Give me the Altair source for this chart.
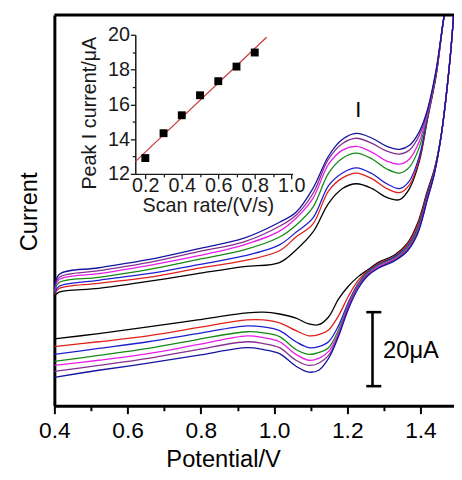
import altair as alt
import pandas as pd

FONT = "Liberation Sans"

# ---------------- main CV data (potential in V, current in µA) ----------------
rates = ["0.2", "0.3", "0.4", "0.5", "0.6", "0.7", "0.8"]
colors = ["#000000", "#e0201a", "#1f1fd0", "#168a16", "#e81ee8", "#852f8f", "#1515a0"]

# forward (anodic) scan, ends at the switching vertex
fwd_V = [0.400, 0.413, 0.521, 0.656, 0.791, 0.918, 1.015, 1.060, 1.106, 1.149, 1.187,
         1.225, 1.268, 1.308, 1.343, 1.370, 1.397, 1.419, 1.443, 1.465, 1.502]
fwd_I = {
    "0.2": [29.6, 30.7, 31.7, 33.6, 35.7, 37.6, 38.7, 42.1, 46.9, 54.7, 58.7,
            60.0, 58.7, 56.3, 55.7, 58.7, 66.1, 77.3, 89.3, 105.6, 125.0],
    "0.3": [30.1, 31.7, 33.1, 34.7, 37.1, 39.2, 41.9, 45.6, 49.1, 58.1, 61.6,
            62.9, 61.3, 58.7, 57.6, 59.7, 66.7, 77.6, 89.6, 105.6, 125.0],
    "0.4": [30.4, 32.3, 33.9, 35.7, 38.1, 40.5, 43.5, 46.9, 50.7, 59.5, 62.9,
            64.3, 62.7, 60.0, 58.7, 60.8, 67.5, 77.9, 89.9, 105.6, 125.0],
    "0.5": [30.7, 33.3, 34.7, 36.8, 39.5, 42.1, 45.6, 48.8, 53.6, 62.9, 66.9,
            68.3, 66.7, 64.0, 62.9, 64.5, 69.9, 78.4, 90.1, 105.6, 125.0],
    "0.6": [30.9, 34.1, 35.7, 37.9, 40.5, 43.5, 47.2, 50.7, 56.0, 65.3, 69.1,
            70.1, 68.5, 66.1, 65.3, 66.7, 71.5, 78.9, 90.4, 105.6, 125.0],
    "0.7": [31.2, 34.7, 36.5, 38.7, 41.6, 44.3, 48.5, 51.5, 57.3, 66.7, 70.9,
            72.3, 70.9, 68.8, 68.0, 69.1, 73.1, 79.5, 90.7, 105.6, 125.0],
    "0.8": [31.5, 35.5, 37.3, 39.5, 42.4, 45.3, 49.6, 52.3, 58.7, 67.5, 72.0,
            73.6, 72.3, 70.1, 69.3, 70.4, 74.1, 80.0, 90.9, 105.6, 125.0],
}

# reverse (cathodic) scan, from just after the vertex back to 0.4 V
rev_V = [1.489, 1.478, 1.457, 1.438, 1.419, 1.392, 1.365, 1.330, 1.284, 1.257, 1.230,
         1.203, 1.176, 1.149, 1.122, 1.095, 1.060, 1.015, 0.971, 0.926, 0.791, 0.656,
         0.521, 0.400]
rev_I = {
    "0.2": [103.5, 90.9, 73.3, 64.0, 58.1, 49.3, 44.0, 40.8, 38.7, 36.8, 34.9,
            32.3, 28.8, 24.0, 21.9, 22.1, 23.7, 24.8, 25.3, 25.1, 23.2, 21.3, 19.5, 18.1],
    "0.3": [103.5, 90.9, 73.3, 63.7, 57.6, 48.8, 43.7, 40.5, 38.4, 36.5, 33.9,
            29.6, 24.3, 20.5, 19.2, 18.9, 20.3, 22.4, 23.2, 23.2, 21.1, 18.9, 17.3, 16.0],
    "0.4": [103.5, 90.9, 73.3, 63.5, 57.1, 48.0, 43.2, 40.3, 38.1, 36.3, 33.1,
            28.0, 21.6, 17.3, 16.0, 15.7, 17.3, 20.3, 21.3, 21.6, 19.5, 17.3, 15.5, 13.9],
    "0.5": [103.5, 90.9, 73.3, 63.2, 56.5, 47.5, 42.7, 40.0, 37.9, 36.0, 32.8,
            27.5, 20.5, 15.7, 14.4, 13.9, 15.2, 18.7, 19.7, 20.0, 17.9, 15.5, 13.6, 12.0],
    "0.6": [103.5, 90.9, 73.3, 62.9, 56.3, 46.9, 42.4, 39.7, 37.6, 35.7, 32.5,
            27.2, 19.7, 14.7, 12.8, 12.3, 13.9, 17.3, 18.4, 18.9, 16.5, 14.1, 12.3, 10.9],
    "0.7": [103.5, 90.9, 73.3, 62.9, 56.0, 46.7, 42.1, 39.5, 37.3, 35.5, 32.3,
            26.7, 19.2, 13.6, 11.5, 10.9, 12.3, 15.7, 16.8, 17.3, 15.2, 12.8, 10.9, 9.3],
    "0.8": [103.5, 90.9, 73.3, 62.7, 55.7, 46.4, 41.9, 39.2, 37.1, 35.2, 31.7,
            26.1, 18.7, 12.8, 9.6, 9.1, 10.7, 14.1, 15.2, 15.7, 13.6, 11.5, 9.6, 7.7],
}

x_ticks = [0.4, 0.5, 0.6, 0.7, 0.8, 0.9, 1.0, 1.1, 1.2, 1.3, 1.4]

# scale bar (20 µA) and peak label
bar_V = [1.269]
bar_I = [5.3]
bar_I2 = [25.3]
cap_V = [1.252, 1.252]
cap_V2 = [1.293, 1.293]
cap_I = [5.3, 25.3]
bar_text = ["20μA"]
bar_text_V = [1.298]
bar_text_I = [14.7]
peak_label = ["I"]
peak_label_V = [1.230]
peak_label_I = [78.1]

# ---------------- inset data ----------------
scan_rate = [0.2, 0.3, 0.4, 0.5, 0.6, 0.7, 0.8]
peak_I = [12.91, 14.34, 15.37, 16.52, 17.33, 18.17, 18.98]
inset_x_ticks = [0.2, 0.3, 0.4, 0.5, 0.6, 0.7, 0.8, 0.9, 1.0]
inset_y_ticks = [12, 13, 14, 15, 16, 17, 18, 19, 20]

# ---------------- tables ----------------
rows = []
for r in rates:
    seq = list(zip(fwd_V, fwd_I[r])) + list(zip(rev_V, rev_I[r]))
    for k, (v, i) in enumerate(seq):
        rows.append({"rate": r, "V": v, "I": i, "k": k})
cv = pd.DataFrame(rows)

bar_df = pd.DataFrame({"V": bar_V, "I": bar_I, "I2": bar_I2})
cap_df = pd.DataFrame({"V": cap_V, "V2": cap_V2, "I": cap_I})
bar_text_df = pd.DataFrame({"V": bar_text_V, "I": bar_text_I, "t": bar_text})
peak_df = pd.DataFrame({"V": peak_label_V, "I": peak_label_I, "t": peak_label})
inset_df = pd.DataFrame({"rate": scan_rate, "peak": peak_I})

W, H = 405, 396

xs = alt.Scale(domain=[0.4, 1.4916], nice=False, zero=False)
ys = alt.Scale(domain=[0, 105.6], nice=False, zero=False)

even10 = "round(datum.value*10) % 2 == 0"
x_axis = alt.Axis(
    values=x_ticks, title="Potential/V", grid=False,
    labelExpr=f"{even10} ? format(datum.value, '.1f') : ''",
    tickSize={"condition": {"test": even10, "value": 8}, "value": 5},
    tickWidth=2, tickColor="black", domainWidth=3, domainColor="black",
    labelFont=FONT, labelFontSize=23, labelColor="black", labelBaseline="alphabetic",
    labelPadding=24, labelOverlap=False, labelFlush=False,
    titleFont=FONT, titleFontSize=24, titleFontWeight="normal", titleColor="black",
    titleX=171, titleY=62, titleBaseline="alphabetic", titleAlign="center",
)
y_axis = alt.Axis(
    ticks=False, labels=False, grid=False, domainWidth=3, domainColor="black",
    title="Current", titleFont=FONT, titleFontSize=24, titleFontWeight="normal",
    titleColor="black", titleX=-18, titleY=199, titleAngle=270,
    titleBaseline="alphabetic", titleAlign="center",
)

X = alt.X("V:Q", scale=xs, axis=x_axis)
Y = alt.Y("I:Q", scale=ys, axis=y_axis)

curves = alt.Chart(cv).mark_line(
    strokeWidth=1.3, clip=True, interpolate="catmull-rom"
).encode(
    x=X, y=Y,
    color=alt.Color("rate:N", scale=alt.Scale(domain=rates, range=colors), legend=None),
    order=alt.Order("k:Q"),
)

top_border = alt.Chart(pd.DataFrame({"a": [0]})).mark_rule(
    color="black", strokeWidth=3
).encode(x=alt.value(0), x2=alt.value(W), y=alt.value(0))

bar = alt.Chart(bar_df).mark_rule(color="black", strokeWidth=2.6).encode(x=X, y=Y, y2="I2:Q")
caps = alt.Chart(cap_df).mark_rule(color="black", strokeWidth=2.6).encode(x=X, x2="V2:Q", y=Y)
bar_txt = alt.Chart(bar_text_df).mark_text(
    align="left", baseline="middle", font=FONT, fontSize=24, color="black"
).encode(x=X, y=Y, text="t:N")
peak_txt = alt.Chart(peak_df).mark_text(
    align="center", baseline="alphabetic", font=FONT, fontSize=22, color="black"
).encode(x=X, y=Y, text="t:N")

main = alt.layer(curves, top_border, bar, caps, bar_txt, peak_txt)

# ---------------- inset ----------------
ix = alt.Scale(domain=[0.145, 1.008], range=[82, 241.5], nice=False, zero=False)
iy = alt.Scale(domain=[12, 20], range=[161, 20], nice=False, zero=False)
INK = "#1a1a1a"
ix_axis = alt.Axis(
    orient="bottom", offset=-235, values=inset_x_ticks, grid=False,
    labelExpr=f"{even10} ? format(datum.value, '.1f') : ''",
    tickSize={"condition": {"test": even10, "value": 5}, "value": 3},
    tickWidth=1.3, tickColor=INK, domainWidth=1.5, domainColor=INK,
    labelFont=FONT, labelFontSize=20, labelColor=INK, labelBaseline="alphabetic",
    labelPadding=13, labelOverlap=False, labelFlush=False,
    title="Scan rate/(V/s)", titleFont=FONT, titleFontSize=20, titleFontWeight="normal",
    titleColor=INK, titleX=155.5, titleY=38, titleBaseline="alphabetic", titleAlign="center",
)
iy_axis = alt.Axis(
    orient="left", offset=-82, values=inset_y_ticks, grid=False,
    labelExpr="datum.value % 2 == 0 ? format(datum.value, 'd') : ''",
    tickSize={"condition": {"test": "datum.value % 2 == 0", "value": 5}, "value": 3},
    tickWidth=1.3, tickColor=INK, domainWidth=1.5, domainColor=INK,
    labelFont=FONT, labelFontSize=20, labelColor=INK, labelPadding=1,
    labelOverlap=False, labelFlush=False,
    title="Peak I current/μA", titleFont=FONT, titleFontSize=20, titleFontWeight="normal",
    titleColor=INK, titleX=-40, titleY=99, titleAngle=270,
    titleBaseline="alphabetic", titleAlign="center",
)
IX = alt.X("rate:Q", scale=ix, axis=ix_axis)
IY = alt.Y("peak:Q", scale=iy, axis=iy_axis)

fit = alt.Chart(inset_df).transform_regression(
    "rate", "peak", extent=[0.145, 0.865]
).mark_line(color="#c8373a", strokeWidth=1.2).encode(x=IX, y=IY)
pts = alt.Chart(inset_df).mark_square(size=64, color="black", opacity=1).encode(x=IX, y=IY)

inset = alt.layer(fit, pts)

chart = alt.layer(main, inset).resolve_scale(
    x="independent", y="independent"
).properties(
    width=W, height=H, autosize="none",
    padding={"left": 47, "top": 4, "right": 0, "bottom": 64},
).configure_view(stroke=None).configure(background="white")

chart.save("out.html", embed_options={"renderer": "svg", "actions": False})
